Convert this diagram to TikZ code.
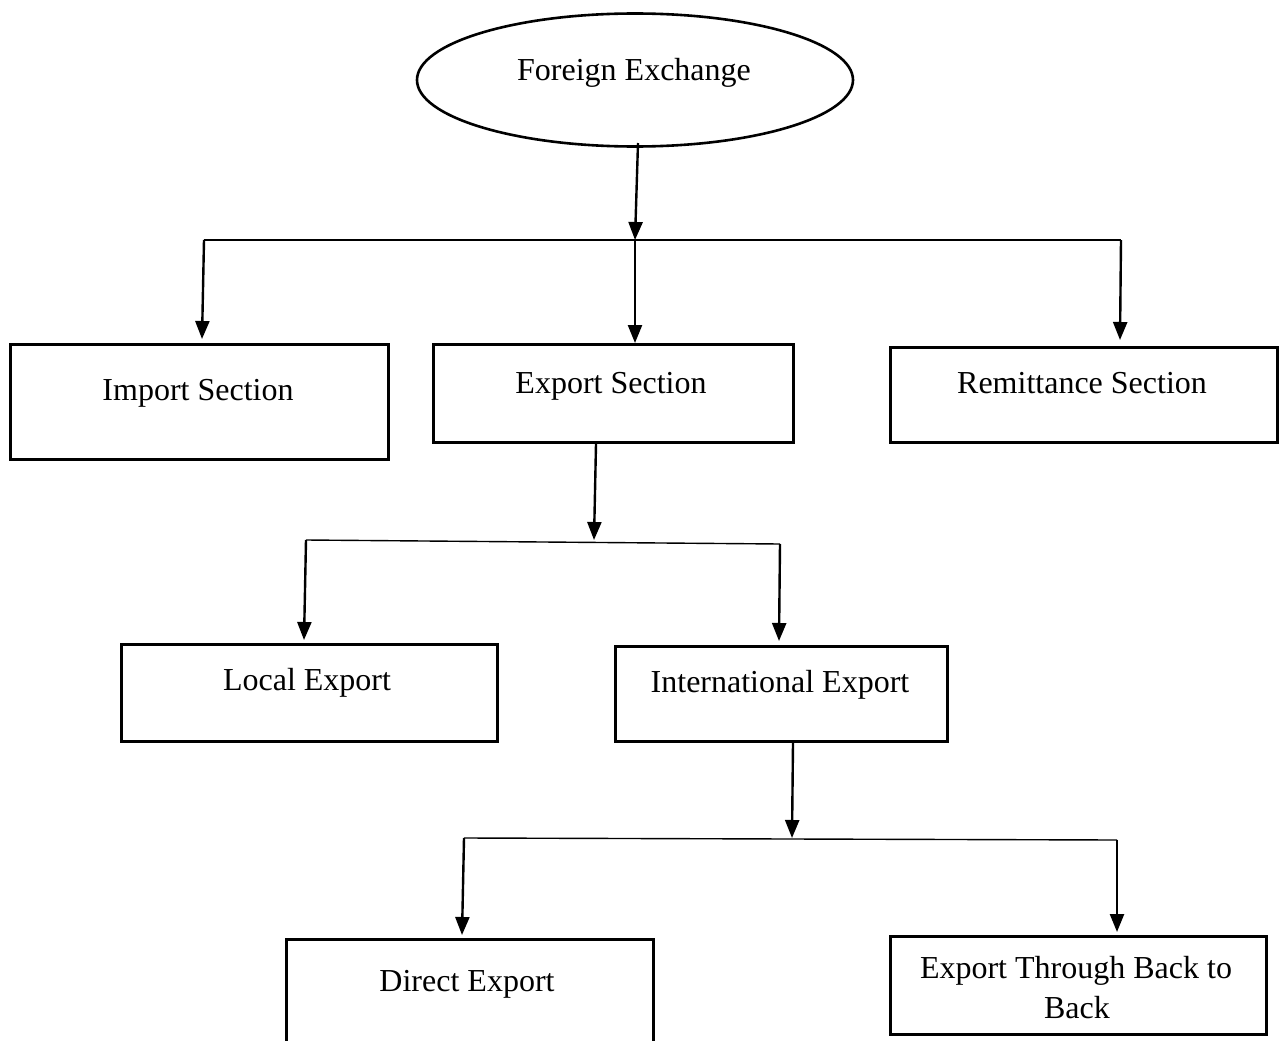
\documentclass[tikz,border=0pt]{standalone}
\usepackage{fontspec}
\setmainfont{Liberation Serif}
\usetikzlibrary{arrows.meta,shapes.geometric}
\begin{document}
\begin{tikzpicture}[x=1pt,y=-1pt,
  boxnode/.style={draw,line width=3pt,rectangle,inner sep=0pt,anchor=north west},
  ovalnode/.style={draw,line width=2.6pt,ellipse,inner sep=0pt,minimum width=436pt,minimum height=133pt},
  txt/.style={inner sep=0pt,anchor=base,font=\fontsize{32}{39}\selectfont},
  arr/.style={line width=2.4pt,-{Triangle[length=18pt,width=14pt]}},
  bus/.style={line width=1.4pt}]
\useasboundingbox (0,0) rectangle (1280,1041);
\clip (0,0) rectangle (1280,1041);
% nodes
\node[ovalnode] (fx) at (635,80) {};
\node[txt] (fxT) at (634,81) {Foreign Exchange};
\node[boxnode,minimum width=378pt,minimum height=115pt] (imp) at (9,343) {};
\node[txt] (impT) at (198,400) {Import Section};
\node[boxnode,minimum width=360pt,minimum height=98pt] (exp) at (432,343) {};
\node[txt] (expT) at (611,393) {Export Section};
\node[boxnode,minimum width=387pt,minimum height=95pt] (rem) at (889,346) {};
\node[txt] (remT) at (1082,393) {Remittance Section};
\node[boxnode,minimum width=376pt,minimum height=97pt] (loc) at (120,643) {};
\node[txt] (locT) at (307,690) {Local Export};
\node[boxnode,minimum width=332pt,minimum height=95pt] (intl) at (614,645) {};
\node[txt] (intlT) at (780,692) {International Export};
\node[boxnode,minimum width=367pt,minimum height=115pt] (dir) at (285,938) {};
\node[txt] (dirT) at (467,991) {Direct Export};
\node[boxnode,minimum width=376pt,minimum height=98pt] (btb) at (889,935) {};
\node[txt] (btbT1) at (1076,978) {Export Through Back to};
\node[txt] (btbT2) at (1077,1018) {Back};
% bus coordinates
\coordinate (j1) at (635,240);
\coordinate (b1l) at (204,240);
\coordinate (b1r) at (1121,240);
\coordinate (j2) at (594,540);
\coordinate (b2l) at (306,540);
\coordinate (b2r) at (780,544);
\coordinate (j3) at (792,838);
\coordinate (b3l) at (464,838);
\coordinate (b3r) at (1117,840);
% level 1
\draw[arr] (638,143) -- (j1);
\draw[bus] (b1l) -- (b1r);
\draw[arr] (b1l) -- (202,339);
\draw[arr] (j1) -- (j1 |- exp.north);
\draw[arr] (b1r) -- (1120,340);
% level 2
\draw[arr] (exp.south -| 596,0) -- (j2);
\draw[bus] (b2l) -- (b2r);
\draw[arr] (b2l) -- (304,640);
\draw[arr] (b2r) -- (779,641);
% level 3
\draw[arr] (intl.south -| 793,0) -- (j3);
\draw[bus] (b3l) -- (b3r);
\draw[arr] (b3l) -- (462,935);
\draw[arr] (b3r) -- (1117,932);
\end{tikzpicture}
\end{document}
